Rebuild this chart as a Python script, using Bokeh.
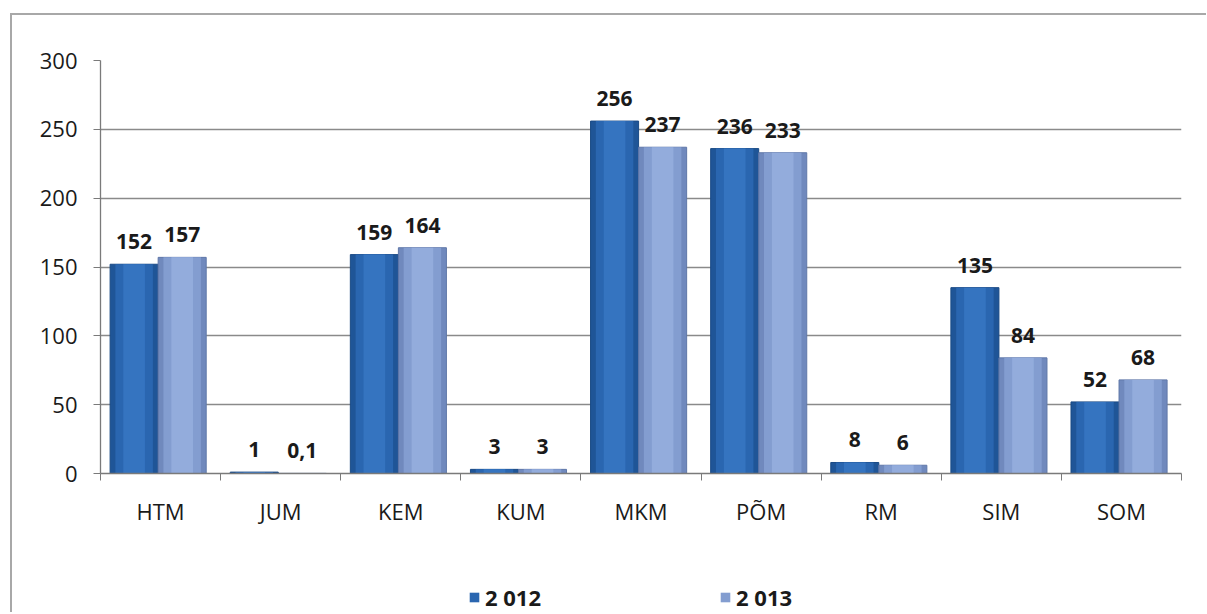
from bokeh.plotting import figure
from bokeh.models import FixedTicker, Legend, LegendItem, ColumnDataSource, LabelSet, Spacer
from bokeh.layouts import row, column
from bokeh.core.properties import value
from bokeh.embed import file_html
from bokeh.resources import INLINE

categories = ["HTM", "JUM", "KEM", "KUM", "MKM", "PÕM", "RM", "SIM", "SOM"]
values_2012 = [152, 1, 159, 3, 256, 236, 8, 135, 52]
values_2013 = [157, 0.1, 164, 3, 237, 233, 6, 84, 68]
labels_2012 = ["152", "1", "159", "3", "256", "236", "8", "135", "52"]
labels_2013 = ["157", "0,1", "164", "3", "237", "233", "6", "84", "68"]
series_names = ["2 012", "2 013"]
y_ticks = [0, 50, 100, 150, 200, 250, 300]

FONT = "Open Sans"
C1 = ("#1f5597", "#2a66b0", "#3574c0", "#1a4a85")
C2 = ("#7089bd", "#839dd0", "#93acdc", "#5f77a8")
n = len(categories)
centers = [i + 0.5 for i in range(n)]
OFF1, OFF2, BW = -0.22, 0.18, 0.40
W = 1194

src1 = ColumnDataSource(dict(x=[c + OFF1 for c in centers], top=values_2012, lab=labels_2012))
src2 = ColumnDataSource(dict(x=[c + OFF2 for c in centers], top=values_2013, lab=labels_2013))

p = figure(width=W, height=528, x_range=(0, n), y_range=(0, 300),
           output_backend="svg", toolbar_location=None,
           min_border_left=88, min_border_top=45, min_border_right=W - 1169, min_border_bottom=70)
p.outline_line_color = None
p.background_fill_color = "white"
p.border_fill_color = "white"

# grid
p.xgrid.visible = False
p.ygrid.ticker = FixedTicker(ticks=y_ticks)
p.ygrid.grid_line_color = "#8a8a8a"
p.ygrid.grid_line_width = 1.3

# bars (layered to imitate shading)
for src, col in ((src1, C1), (src2, C2)):
    p.vbar(x="x", top="top", width=BW, source=src, fill_color=col[0], line_color=col[3], line_width=1)
    p.vbar(x="x", top="top", width=BW * 0.78, source=src, fill_color=col[1], line_color=None)
    p.vbar(x="x", top="top", width=BW * 0.45, source=src, fill_color=col[2], line_color=None)

# value labels
for s in (src1, src2):
    p.add_layout(LabelSet(x="x", y="top", text="lab", source=s, y_offset=15,
                          text_align="center", text_baseline="bottom",
                          text_font=value(FONT), text_font_size="21px",
                          text_font_style="bold", text_color="#1a1a1a"))

# axes
p.yaxis.ticker = FixedTicker(ticks=y_ticks)
p.yaxis.axis_line_color = "#7a7a7a"
p.yaxis.axis_line_width = 1.3
p.yaxis.major_tick_line_color = "#7a7a7a"
p.yaxis.major_tick_out = 7
p.yaxis.major_tick_in = 0
p.yaxis.minor_tick_line_color = None
p.yaxis.major_label_standoff = 16
p.yaxis.major_label_text_font = FONT
p.yaxis.major_label_text_font_size = "22px"
p.yaxis.major_label_text_color = "#1a1a1a"

p.xaxis.ticker = FixedTicker(ticks=centers, minor_ticks=list(range(n + 1)))
p.xaxis.major_label_overrides = {c: cat for c, cat in zip(centers, categories)}
p.xaxis.axis_line_color = "#7a7a7a"
p.xaxis.axis_line_width = 1.3
p.xaxis.major_tick_line_color = None
p.xaxis.minor_tick_line_color = "#7a7a7a"
p.xaxis.minor_tick_out = 7
p.xaxis.minor_tick_in = 0
p.xaxis.major_label_standoff = 15
p.xaxis.major_label_text_font = FONT
p.xaxis.major_label_text_font_size = "22px"
p.xaxis.major_label_text_color = "#1a1a1a"

# legend strip (separate small figure under the chart; its bars lie outside its y range
# and are made hair-thin so nothing of them shows)
pl = figure(width=W, height=69, x_range=(0, n), y_range=(-1000, -999),
            output_backend="svg", toolbar_location=None,
            x_axis_type=None, y_axis_type=None, min_border=0)
pl.outline_line_color = None
pl.xgrid.visible = False
pl.ygrid.visible = False
lr1 = pl.vbar(x="x", top="top", width=1e-7, source=src1, fill_color=C1[1], line_color=None)
lr2 = pl.vbar(x="x", top="top", width=1e-7, source=src2, fill_color=C2[1], line_color=None)
legend = Legend(items=[LegendItem(label=series_names[0], renderers=[lr1]),
                       LegendItem(label=series_names[1], renderers=[lr2])],
                orientation="horizontal", location=(368, 0),
                padding=0, margin=0, spacing=178, label_standoff=5,
                glyph_width=12, glyph_height=12, label_height=20,
                label_text_font=FONT, label_text_font_size="22px",
                label_text_font_style="bold", label_text_color="#1a1a1a",
                border_line_color=None, background_fill_alpha=0)
pl.add_layout(legend, "center")

box = column(p, pl, spacing=0,
             styles={"border-left": "2px solid #a8a8a8", "border-top": "2px solid #a8a8a8"})
page = row(Spacer(width=10, height=600),
           column(Spacer(width=W, height=13), box, spacing=0), spacing=0)

open("out.html", "w").write(file_html(page, INLINE))
